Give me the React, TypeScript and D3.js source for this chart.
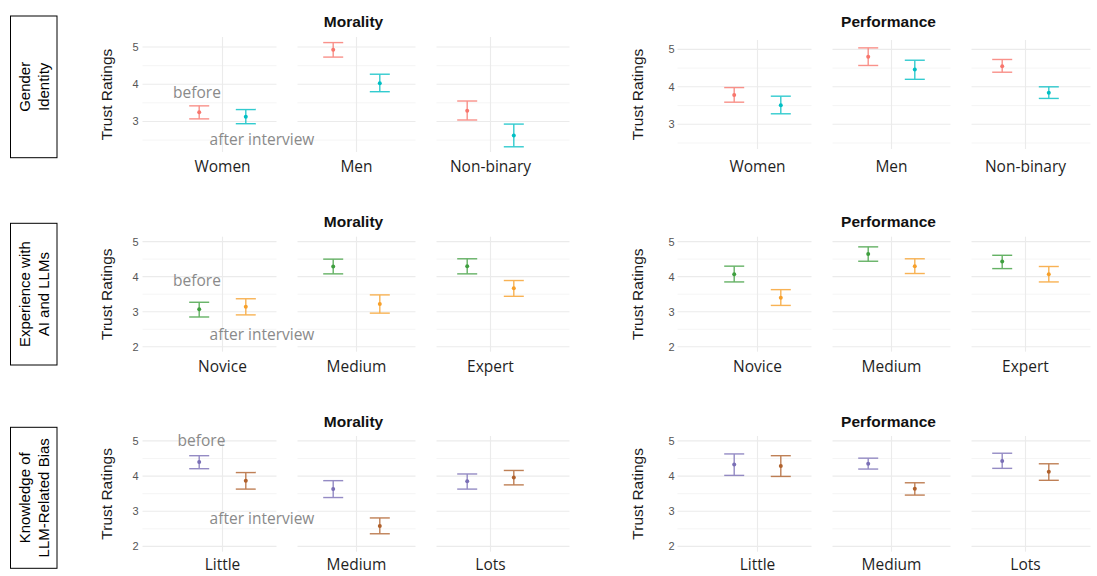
import React from "react";
import * as d3 from "d3";

// [mean, lower, upper] per category
const genderCats = ["Women", "Men", "Non-binary"];
const genderMoralBefore = [[3.25, 3.07, 3.42], [4.93, 4.73, 5.12], [3.29, 3.04, 3.55]];
const genderMoralAfter = [[3.13, 2.94, 3.32], [4.03, 3.8, 4.27], [2.62, 2.32, 2.93]];
const genderPerfBefore = [[3.78, 3.59, 3.98], [4.8, 4.57, 5.04], [4.55, 4.39, 4.73]];
const genderPerfAfter = [[3.51, 3.28, 3.75], [4.46, 4.2, 4.71], [3.84, 3.69, 4.0]];

const expCats = ["Novice", "Medium", "Expert"];
const expMoralBefore = [[3.07, 2.85, 3.27], [4.29, 4.08, 4.5], [4.3, 4.08, 4.51]];
const expMoralAfter = [[3.14, 2.91, 3.37], [3.22, 2.96, 3.48], [3.67, 3.44, 3.89]];
const expPerfBefore = [[4.07, 3.85, 4.3], [4.65, 4.44, 4.85], [4.43, 4.23, 4.61]];
const expPerfAfter = [[3.4, 3.18, 3.63], [4.3, 4.09, 4.51], [4.07, 3.85, 4.29]];

const biasCats = ["Little", "Medium", "Lots"];
const biasMoralBefore = [[4.4, 4.21, 4.58], [3.63, 3.39, 3.87], [3.85, 3.63, 4.06]];
const biasMoralAfter = [[3.87, 3.63, 4.1], [2.58, 2.36, 2.81], [3.96, 3.75, 4.16]];
const biasPerfBefore = [[4.33, 4.02, 4.63], [4.35, 4.2, 4.51], [4.43, 4.22, 4.65]];
const biasPerfAfter = [[4.29, 3.99, 4.58], [3.64, 3.46, 3.81], [4.12, 3.88, 4.35]];

const groups = ["before", "after"];
const genderColors = ["#F8766D", "#00BFC4"];
const expColors = ["#3f9f3f", "#f7a02a"];
const biasColors = ["#7a6fb6", "#b0612c"];

const rowLabels = [
  ["Gender", "Identity"],
  ["Experience with", "AI and LLMs"],
  ["Knowledge of", "LLM-Related Bias"],
];

const sans = "'Liberation Sans', Arial, sans-serif";
const soft = "'Open Sans', 'Noto Sans', sans-serif";

function Panel(p: any) {
  const x = d3.scalePoint<string>().domain(p.cats).range(p.xRange);
  const dodge = d3.scalePoint<string>().domain(groups).range([-23.3, 23.3]);
  const y = d3.scaleLinear().domain(p.yDomain).range(p.yRange);
  const step = x.step();
  const half = 59, gap = 21;
  const [lo, hi] = p.yDomain;
  const minor = d3.range(Math.ceil(lo * 2) / 2, hi, 0.5).filter((v) => v % 1 !== 0);
  const major = d3.range(Math.ceil(lo), hi, 1);
  const top = p.yRange[1], bottom = p.yRange[0];
  const n = p.cats.length;
  const series = [p.before, p.after];

  return (
    <g>
      {p.cats.map((c: string, i: number) => {
        const cx = x(c)!;
        const left = i === 0 ? cx - 80 : cx - (i === n - 1 ? step - half - gap : half);
        const right = i === n - 1 ? cx + p.outerRight : cx + (i === 0 ? step - half - gap : half);
        return (
          <g key={c}>
            {minor.map((v) => (
              <line key={"m" + v} x1={left} x2={right} y1={y(v)} y2={y(v)} stroke="#f3f3f3" strokeWidth={0.8} />
            ))}
            {major.map((v) => (
              <line key={"M" + v} x1={left} x2={right} y1={y(v)} y2={y(v)} stroke="#ebebeb" strokeWidth={1.1} />
            ))}
            <line x1={cx} x2={cx} y1={top} y2={bottom} stroke="#ebebeb" strokeWidth={1.1} />
            <text x={cx} y={p.labelY + 5.5} textAnchor="middle" fontFamily={soft} fontSize={15.5} fill="#1f1f1f">
              {c}
            </text>
          </g>
        );
      })}
      {major.map((v) => (
        <text key={v} x={p.axisX} y={y(v) + 4} textAnchor="end" fontFamily={sans} fontSize={11} fill="#555">
          {v}
        </text>
      ))}
      {series.map((s: number[][], gi: number) =>
        s.map((d, i) => {
          const cx = x(p.cats[i])! + dodge(groups[gi])!;
          const col = p.colors[gi];
          return (
            <g key={gi + "-" + i}>
              <g stroke={col} strokeWidth={1.4} opacity={0.8}>
                <line x1={cx} x2={cx} y1={y(d[1])} y2={y(d[2])} />
                <line x1={cx - 10} x2={cx + 10} y1={y(d[1])} y2={y(d[1])} />
                <line x1={cx - 10} x2={cx + 10} y1={y(d[2])} y2={y(d[2])} />
              </g>
              <circle cx={cx} cy={y(d[0])} r={2} fill={col} />
            </g>
          );
        })
      )}
      <text
        transform={`translate(${p.yTitleX},${(top + bottom) / 2}) rotate(-90)`}
        textAnchor="middle"
        fontFamily={sans}
        fontSize={15.5}
        fill="#1a1a1a"
      >
        Trust Ratings
      </text>
      <text x={x(p.cats[1])! - 3} y={p.titleY + 5.5} textAnchor="middle" fontFamily={sans} fontWeight="bold" fontSize={15.5} fill="#111">
        {p.title}
      </text>
    </g>
  );
}

const leftX: [number, number] = [222.5, 490.5];
const rightX: [number, number] = [757.5, 1025.5];

export default function App() {
  const rows = [
    {
      cats: genderCats, colors: genderColors,
      moral: [genderMoralBefore, genderMoralAfter], perf: [genderPerfBefore, genderPerfAfter],
      yMoral: [[2.18, 5.27], [152, 37]], yPerf: [[2.34, 5.25], [149, 40]],
      titleY: 21, labelY: 166.7, box: [16, 157.7],
      before: [197, 92.7], after: [262, 139.3],
    },
    {
      cats: expCats, colors: expColors,
      moral: [expMoralBefore, expMoralAfter], perf: [expPerfBefore, expPerfAfter],
      yMoral: [[1.86, 5.14], [351.7, 236.7]], yPerf: [[1.86, 5.14], [351.7, 236.7]],
      titleY: 221.5, labelY: 366.7, box: [223.3, 365],
      before: [197, 280], after: [262, 334.3],
    },
    {
      cats: biasCats, colors: biasColors,
      moral: [biasMoralBefore, biasMoralAfter], perf: [biasPerfBefore, biasPerfAfter],
      yMoral: [[1.85, 5.14], [551.7, 436]], yPerf: [[1.85, 5.14], [551.7, 436]],
      titleY: 421.5, labelY: 564, box: [427.3, 568.3],
      before: [201.5, 440], after: [262, 518.3],
    },
  ];

  return (
    <svg width={1097} height={576} style={{ position: "absolute", left: 0, top: 0, background: "#fff" }}>
      {rows.map((r, ri) => (
        <g key={ri}>
          <rect x={10.5} y={r.box[0]} width={46.5} height={r.box[1] - r.box[0]} fill="none" stroke="#000" strokeWidth={1} />
          <text
            transform={`translate(34,${(r.box[0] + r.box[1]) / 2}) rotate(-90)`}
            textAnchor="middle"
            fontFamily={sans}
            fontSize={15}
            fill="#000"
          >
            <tspan x={0} y={-4}>{rowLabels[ri][0]}</tspan>
            <tspan x={0} y={15}>{rowLabels[ri][1]}</tspan>
          </text>
          <Panel
            title="Morality" cats={r.cats} before={r.moral[0]} after={r.moral[1]} colors={r.colors}
            xRange={leftX} yDomain={r.yMoral[0]} yRange={r.yMoral[1]} outerRight={79}
            titleY={r.titleY} labelY={r.labelY} axisX={138.5} yTitleX={112}
          />
          <Panel
            title="Performance" cats={r.cats} before={r.perf[0]} after={r.perf[1]} colors={r.colors}
            xRange={rightX} yDomain={r.yPerf[0]} yRange={r.yPerf[1]} outerRight={65}
            titleY={r.titleY} labelY={r.labelY} axisX={674.5} yTitleX={643}
          />
          <text x={r.before[0]} y={r.before[1] + 5.5} textAnchor="middle" fontFamily={soft} fontSize={15.5} fill="#8a8a8a">
            before
          </text>
          <text x={r.after[0]} y={r.after[1] + 5.5} textAnchor="middle" fontFamily={soft} fontSize={15.5} fill="#8a8a8a">
            after interview
          </text>
        </g>
      ))}
    </svg>
  );
}
